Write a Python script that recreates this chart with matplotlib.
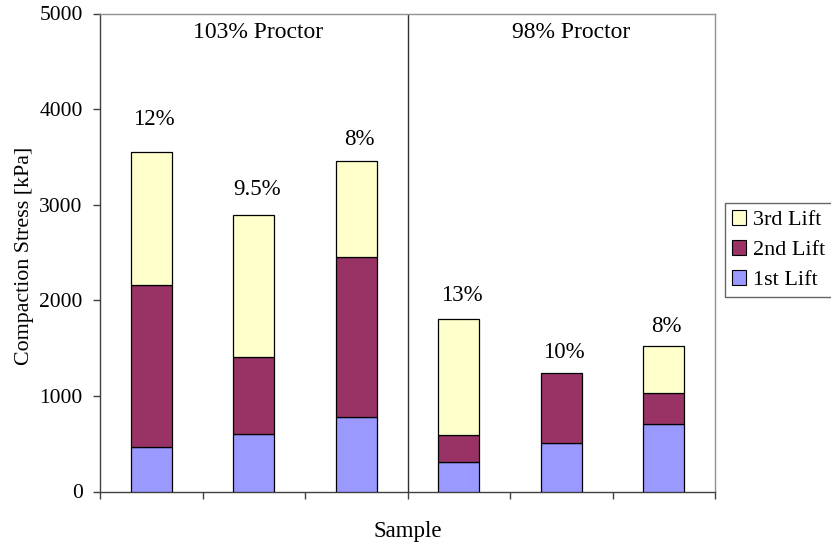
import matplotlib
matplotlib.use("Agg")
import matplotlib.pyplot as plt
from matplotlib.patches import Patch

samples = ["S1", "S2", "S3", "S4", "S5", "S6"]
lift1 = [470, 598, 782, 312, 507, 709]
lift2 = [1685, 812, 1674, 276, 729, 321]
lift3 = [1395, 1482, 1001, 1213, 0, 489]
moisture_labels = ["12%", "9.5%", "8%", "13%", "10%", "8%"]
label_y = [3886, 3154, 3677, 2045, 1459, 1721]
groups = ["103% Proctor", "98% Proctor"]
yticks = [0, 1000, 2000, 3000, 4000, 5000]

plt.rcParams['font.family'] = ['Liberation Serif', 'DejaVu Serif']
fs = 16.5

fig = plt.figure(figsize=(8.31, 5.49), dpi=100)
ax = fig.add_axes([100/831, 57.5/549, 615/831, 478/549])

c1, c2, c3 = "#9999FF", "#993366", "#FFFFCC"
x = list(range(len(samples)))
w = 0.4
b2 = [a for a in lift1]
b3 = [a + b for a, b in zip(lift1, lift2)]
ax.bar(x, lift1, w, color=c1, edgecolor="black", linewidth=0.9, zorder=3)
ax.bar(x, lift2, w, bottom=b2, color=c2, edgecolor="black", linewidth=0.9, zorder=3)
for i in x:
    if lift3[i] > 0:
        ax.bar(i, lift3[i], w, bottom=b3[i], color=c3, edgecolor="black", linewidth=0.9, zorder=3)

for i, (t, yy) in enumerate(zip(moisture_labels, label_y)):
    ax.text(i + 0.03, yy, t, ha="center", va="center", fontsize=fs)

ax.set_xlim(-0.5, 5.5)
ax.set_ylim(0, 5000)
ax.set_yticks(yticks)
ax.set_yticklabels([str(v) for v in yticks], fontsize=15.5)
ax.set_xticks([i - 0.5 for i in range(len(samples) + 1)])
ax.set_xticklabels([])
ax.tick_params(axis="both", direction="out", length=5, width=1, color="#404040")
ax.tick_params(axis="y", pad=7.5)

for s in ["left", "bottom"]:
    ax.spines[s].set_color("#404040")
    ax.spines[s].set_linewidth(1.0)
for s in ["top", "right"]:
    ax.spines[s].set_color("#909090")
    ax.spines[s].set_linewidth(1.0)

ax.axvline(2.5, color="#303030", linewidth=1.0, zorder=2)

ax.text(1.04, 4806, groups[0], ha="center", va="center", fontsize=fs + 0.5)
ax.text(4.1, 4806, groups[1], ha="center", va="center", fontsize=fs + 0.5)

ax.set_ylabel("Compaction Stress [kPa]", fontsize=15.8)
ax.yaxis.set_label_coords((25 - 100) / 615, (491.5 - 255.5) / 478)
ax.yaxis.label.set_va("center")
ax.set_xlabel("Sample", fontsize=fs)
ax.xaxis.set_label_coords(0.5, (491.5 - 532) / 478)
ax.xaxis.label.set_va("center")

handles = [Patch(facecolor=c3, edgecolor="black", linewidth=0.8, label="3rd Lift"),
           Patch(facecolor=c2, edgecolor="black", linewidth=0.8, label="2nd Lift"),
           Patch(facecolor=c1, edgecolor="black", linewidth=0.8, label="1st Lift")]
leg = fig.legend(handles=handles, loc="upper left", bbox_to_anchor=(725/831, 1 - 203/549),
                 fontsize=16, frameon=True, fancybox=False, edgecolor="#404040",
                 handlelength=0.65, handleheight=0.65, handletextpad=0.3, borderpad=0.3,
                 labelspacing=0.45, borderaxespad=0)
leg.get_frame().set_linewidth(1.0)

fig.savefig("out.png", dpi=100)
